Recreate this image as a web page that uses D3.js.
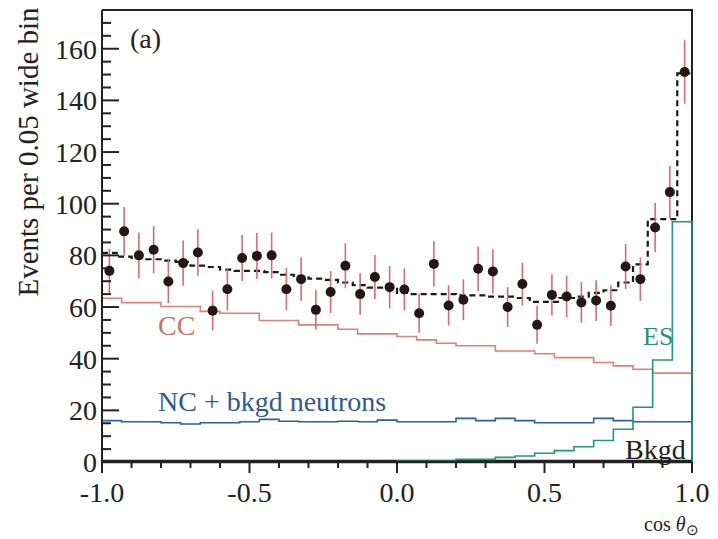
<!DOCTYPE html>
<html>
<head>
<meta charset="utf-8">
<script src="https://cdn.jsdelivr.net/npm/d3@7"></script>
<style>
  html, body { margin: 0; padding: 0; background: #fff; }
  svg text { font-family: "Liberation Serif", "Times New Roman", serif; }
</style>
</head>
<body>
<div id="chart"></div>
<script>
// data points, 40 bins of 0.05 in cos(theta_sun)
const counts = [74, 89.3, 80, 82.2, 69.9, 77, 81.1, 58.6, 66.9, 79,
  79.8, 80, 66.9, 70.8, 58.9, 65.8, 76, 65, 71.6, 67.7,
  66.8, 57.6, 76.7, 60.6, 62.8, 74.8, 73.8, 60, 68.9, 53.1,
  64.7, 64.1, 61.8, 62.5, 60.5, 75.7, 70.8, 90.8, 104.5, 151]
const errors = [8.6, 9.4, 8.9, 9.1, 8.4, 8.8, 9.0, 7.7, 8.2, 8.9,
  8.9, 8.9, 8.2, 8.4, 7.7, 8.1, 8.7, 8.1, 8.5, 8.2,
  8.2, 7.6, 8.8, 7.8, 7.9, 8.6, 8.6, 7.7, 8.3, 7.3,
  8.0, 8.0, 7.9, 7.9, 7.8, 8.7, 8.4, 9.5, 10.2, 12.3]
// fitted total (dashed), same 40 bins
const total = [81, 79.5, 79, 78.5, 78, 77.5, 76, 75.5, 74.5, 74,
  74, 73.5, 72.5, 71.5, 71, 70.5, 69.5, 68.5, 67.5, 67.5,
  65.5, 65, 65, 65, 64.5, 64.5, 64, 64, 63.5, 62,
  62, 63.5, 64, 65.5, 66.5, 69.5, 76.5, 94, 94, 150.5]

// signal shapes, 30 bins
const cc = [63.4, 61.7, 61.7, 60.2, 60.2, 58.3, 57.6, 57.6, 54.8, 54.8,
  53.1, 53.1, 51.4, 49.6, 49.6, 48.6, 47.3, 46, 45, 45,
  43, 43, 41.9, 40.4, 40.4, 38.5, 37.2, 35.9, 34.4, 34.4]
const nc = [16, 15.6, 15.6, 15.2, 14.7, 15.2, 15.2, 15.6, 16.5, 15.8,
  15.6, 15.6, 15.8, 15.6, 16.2, 15.6, 15.6, 15.6, 16.9, 16,
  16.9, 16, 15.2, 15.2, 15.2, 16.9, 16, 15.6, 15.6, 15.6]
const es = [0, 0, 0, 0, 0, 0, 0, 0, 0, 0,
  0, 0, 0, 0, 0, 0.4, 0.4, 0.4, 1.0, 1.0,
  1.8, 2.3, 3.4, 4.4, 5.9, 8.3, 12.7, 21.2, 39.5, 93]
const bkgd = [0.6, 0.6, 0.6, 0.6, 0.6, 0.6, 0.6, 0.6, 0.6, 0.6,
  0.6, 0.6, 0.6, 0.6, 0.6, 0.6, 0.6, 0.6, 0.6, 0.6,
  0.6, 0.6, 0.6, 0.6, 0.6, 0.6, 0.6, 0.6, 0.6, 0.6]

const xMajor = [-1.0, -0.5, 0.0, 0.5, 1.0]
const yMajor = [0, 20, 40, 60, 80, 100, 120, 140, 160]

const width = 718
const height = 539

const svg = d3.select("#chart")
  .append("svg")
  .attr("width", width)
  .attr("height", height)

const x = d3.scaleLinear().domain([-1, 1]).range([102, 692])
const y = d3.scaleLinear().domain([0, 175]).range([462, 10])

// turn a list of bin contents into step points
function steps(vals, skipZeros) {
  const w = 2 / vals.length
  const pts = []
  let started = !skipZeros
  vals.forEach((v, i) => {
    if (!started && v > 0) {
      started = true
      pts.push([-1 + i * w, 0])
    }
    if (started) pts.push([-1 + i * w, v])
  })
  pts.push([1, vals[vals.length - 1]])
  return pts
}

const stepLine = d3.line()
  .x(d => x(d[0]))
  .y(d => y(d[1]))
  .curve(d3.curveStepAfter)

// top and right frame
svg.append("path")
  .attr("d", `M${x(-1)},${y(175)}H${x(1)}V${y(0)}`)
  .attr("fill", "none")
  .attr("stroke", "#222")
  .attr("stroke-width", 2)

// histograms
function hist(vals, color, closeRight, skipZeros) {
  const pts = steps(vals, skipZeros)
  if (closeRight) pts.push([1, 0])
  svg.append("path")
    .attr("d", d3.line().x(d => x(d[0])).y(d => y(d[1]))(
      // expand the steps by hand so the last drop stays vertical
      pts.flatMap((p, i) => i === 0 ? [p] : [[p[0], pts[i - 1][1]], p])
    ))
    .attr("fill", "none")
    .attr("stroke", color)
    .attr("stroke-width", 1.6)
}

hist(cc, "#de8079", false, false)
hist(nc, "#2f5f9c", true, false)
hist(bkgd, "#222", false, false)
hist(es, "#1c9a78", true, true)

// dashed total
svg.append("path")
  .attr("d", stepLine(steps(total, false)))
  .attr("fill", "none")
  .attr("stroke", "#1a1a1a")
  .attr("stroke-width", 2.2)
  .attr("stroke-dasharray", "6,4")

// data points with error bars
const bw = 2 / counts.length
const pts = svg.append("g")
pts.selectAll("line")
  .data(counts)
  .enter()
  .append("line")
  .attr("x1", (d, i) => x(-1 + bw * (i + 0.5)))
  .attr("x2", (d, i) => x(-1 + bw * (i + 0.5)))
  .attr("y1", (d, i) => y(d - errors[i]))
  .attr("y2", (d, i) => y(d + errors[i]))
  .attr("stroke", "#d56c7a")
  .attr("stroke-width", 1.6)

pts.selectAll("circle")
  .data(counts)
  .enter()
  .append("circle")
  .attr("cx", (d, i) => x(-1 + bw * (i + 0.5)))
  .attr("cy", d => y(d))
  .attr("r", 5)
  .attr("fill", "#231815")

// left and bottom axes, ticks
const axes = svg.append("g").attr("stroke", "#222")
axes.append("line")
  .attr("x1", x(-1)).attr("x2", x(-1))
  .attr("y1", y(0)).attr("y2", y(175))
  .attr("stroke-width", 2)
axes.append("line")
  .attr("x1", x(-1)).attr("x2", x(1))
  .attr("y1", y(0)).attr("y2", y(0))
  .attr("stroke-width", 2.5)

const yTicks = d3.range(0, 176, 5)
axes.selectAll(".yt")
  .data(yTicks)
  .enter()
  .append("line")
  .attr("x1", x(-1))
  .attr("x2", d => x(-1) + (d % 20 === 0 ? 17 : 9))
  .attr("y1", d => y(d))
  .attr("y2", d => y(d))
  .attr("stroke-width", 2)

const xTicks = d3.range(-10, 11).map(d => d / 10)
axes.selectAll(".xt")
  .data(xTicks)
  .enter()
  .append("line")
  .attr("x1", d => x(d))
  .attr("x2", d => x(d))
  .attr("y1", y(0))
  .attr("y2", d => y(0) + (Math.abs(d * 2 - Math.round(d * 2)) < 1e-6 ? 11 : 6))
  .attr("stroke-width", 2)

// tick labels
svg.selectAll(".yl")
  .data(yMajor)
  .enter()
  .append("text")
  .attr("x", 97)
  .attr("y", d => y(d) + 10)
  .attr("text-anchor", "end")
  .attr("font-size", 28)
  .attr("fill", "#222")
  .text(d => d)

svg.selectAll(".xl")
  .data(xMajor)
  .enter()
  .append("text")
  .attr("x", d => x(d))
  .attr("y", 502)
  .attr("text-anchor", "middle")
  .attr("font-size", 28)
  .attr("fill", "#222")
  .text(d => d.toFixed(1))

// axis titles
svg.append("text")
  .attr("transform", "translate(38,152) rotate(-90)")
  .attr("text-anchor", "middle")
  .attr("font-size", 29)
  .attr("fill", "#222")
  .text("Events per 0.05 wide bin")

const xt = svg.append("text")
  .attr("x", 644)
  .attr("y", 531)
  .attr("font-size", 20)
  .attr("fill", "#222")
xt.append("tspan").text("cos ")
xt.append("tspan").attr("font-style", "italic").text("θ")
xt.append("tspan").attr("font-size", 15).attr("dy", 4).text("⊙")

// in-plot labels
svg.append("text").attr("x", 130).attr("y", 48)
  .attr("font-size", 28).attr("fill", "#222").text("(a)")
svg.append("text").attr("x", 158).attr("y", 335)
  .attr("font-size", 28).attr("fill", "#c8756b").text("CC")
svg.append("text").attr("x", 158).attr("y", 411)
  .attr("font-size", 28).attr("fill", "#2f5a8f").text("NC + bkgd neutrons")
svg.append("text").attr("x", 643).attr("y", 345)
  .attr("font-size", 26).attr("fill", "#239477").text("ES")
svg.append("text").attr("x", 625).attr("y", 459)
  .attr("font-size", 28).attr("fill", "#222").text("Bkgd")
</script>
</body>
</html>
